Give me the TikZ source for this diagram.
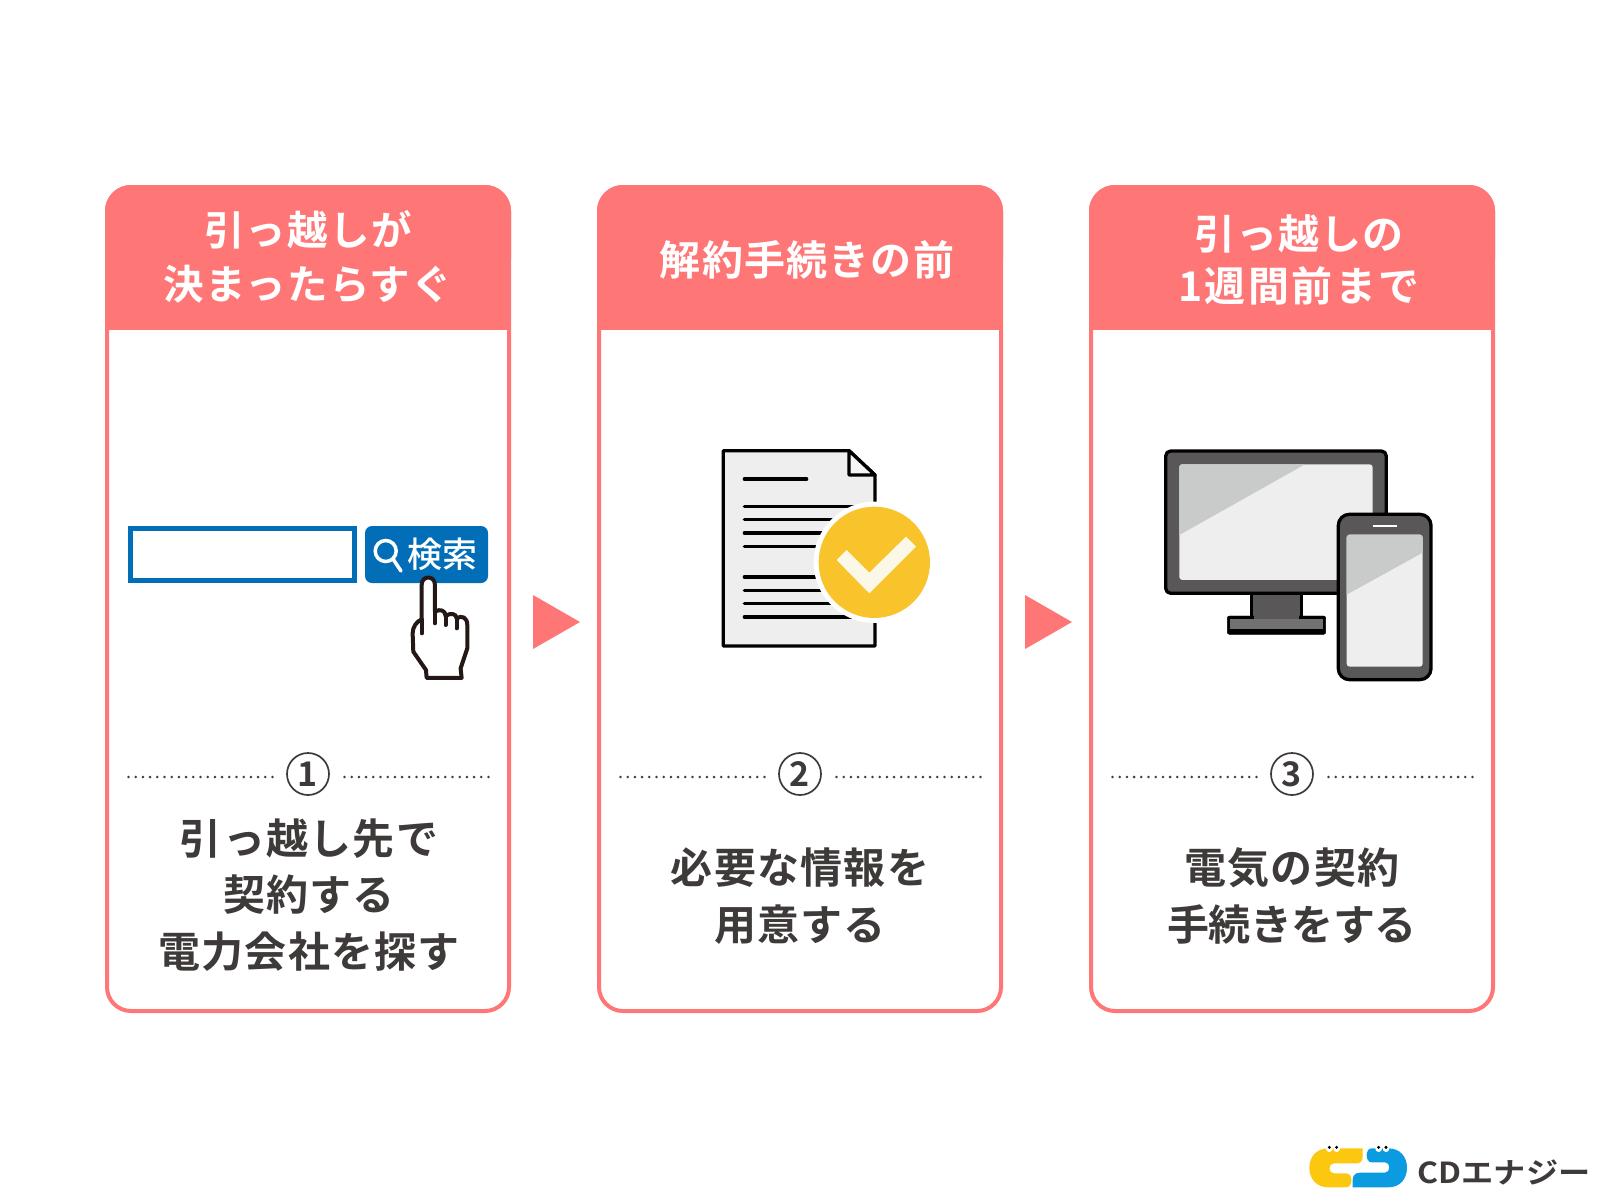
\documentclass[tikz,border=0pt]{standalone}
\usepackage{fontspec}
\usetikzlibrary{positioning}
\newfontfamily\jpfont[LetterSpace=3]{Noto Sans CJK JP Bold}
\newfontfamily\jptight[LetterSpace=-1]{Noto Sans CJK JP Bold}
\newfontfamily\jpwide[LetterSpace=6]{Noto Sans CJK JP Bold}
\newfontfamily\jpplain{Noto Sans CJK JP Medium}
\newfontfamily\jpbold{Noto Sans CJK JP Bold}
\definecolor{salmon}{HTML}{FF7676}
\definecolor{inkgray}{HTML}{3E3A39}
\definecolor{searchblue}{HTML}{036EB8}
\definecolor{handink}{HTML}{231815}
\definecolor{paper}{HTML}{EEEEEE}
\definecolor{glare}{HTML}{C9CACA}
\definecolor{bezel}{HTML}{595757}
\definecolor{basegray}{HTML}{727171}
\definecolor{badge}{HTML}{F9C32B}
\definecolor{tick}{HTML}{FBF8E8}
\definecolor{logoyellow}{HTML}{FCC80F}
\definecolor{logoblue}{HTML}{0A9BE0}
\tikzset{
    cardbox/.style={draw=salmon, line width=4pt, rounded corners=24pt, minimum width=402pt, minimum height=824pt, inner sep=0pt, node distance=492pt, on grid},
    headtext/.style={text=white, font=\jpfont\fontsize{41}{54.5}\selectfont, align=center, inner sep=0pt},
    bodytext/.style={text=inkgray, font=\jpfont\fontsize{42}{56.5}\selectfont, align=center, inner sep=0pt},
    numtext/.style={draw=inkgray, line width=1.7pt, circle, minimum size=42pt, inner sep=0pt, text=inkgray, font=\jpbold\fontsize{34}{34}\selectfont, node distance=492pt, on grid},
    dotrule/.style={draw=inkgray, line width=2.8pt, line cap=round, dash pattern=on 0pt off 7.2pt},
    inkline/.style={line width=3.3pt, line cap=round, line join=round},
    zoomed/.style={x=0.3333pt, y=-0.3333pt},
}
\begin{document}
\begin{tikzpicture}[x=1pt,y=-1pt]
\useasboundingbox (0,0) rectangle (1600,1200);
% cards
\node (cardA) [cardbox] at (308,599) {};
\node (cardB) [cardbox, right of=cardA] {};
\node (cardC) [cardbox, right of=cardB] {};
\foreach \c in {cardA,cardB,cardC} {
    \fill[salmon, rounded corners=26pt] (\c.north west) ++(0,100) -- (\c.north west) -- (\c.north east) -- ++(0,100) -- cycle;
    \fill[salmon] (\c.north west) ++(0,60) rectangle ++(406,84.7);
}
% headers
\node (headA) [headtext, font=\jpfont\fontsize{40.5}{54.5}\selectfont] at (308,257) {引っ越しが\\決まったらすぐ};
\node (headB) [headtext] at (807,260) {解約手続きの前};
\node (headC) [headtext] at (1299,260) {引っ越しの\\[-2.5pt]{\jpwide 1週間前まで}};
% arrows
\fill[salmon] (533,595) -- (580,622) -- (533,649) -- cycle;
\fill[salmon] (1025,595) -- (1072,622) -- (1025,649) -- cycle;
% numbers
\node (numA) [numtext] at (308,774) {1};
\node (numB) [numtext, right of=numA] {2};
\node (numC) [numtext, right of=numB] {3};
\foreach \n in {numA,numB,numC} {
    \draw[dotrule] (\n.center) ++(-179.5,3) -- ++(144.2,0);
    \draw[dotrule] (\n.center) ++(36.5,3) -- ++(144.2,0);
}
% captions
\node (bodyA) [bodytext] at (309,895) {引っ越し先で\\契約する\\電力会社を探す};
\node (bodyB) [bodytext] at (800,896) {必要な情報を\\用意する};
\node (bodyC) [bodytext] at (1292,896) {電気の契約\\{\jptight 手続きをする}};
% search box
\draw[searchblue, line width=5pt] (130.8,528.5) rectangle (354.5,580.5);
\fill[searchblue, rounded corners=7pt] (365,526) rectangle (488,583);
\draw[white, line width=3.5pt] (385.7,551) circle (10.5);
\draw[white, line width=3.5pt, line cap=round] (393,559) -- (401,571);
\node (searchword) [text=white, font=\jpplain\fontsize{35}{35}\selectfont, inner sep=0pt] at (442.5,554) {検索};
\begin{scope}[shift={(100,480)}, zoomed]
    \path[draw=white, line width=11pt, line cap=round] (985,315) -- (985,420);
    \draw[handink, inkline, line width=4pt, fill=white]
        (965,418) -- (965,315) .. controls (965,285) and (1005,285) .. (1005,315) -- (1005,395)
        .. controls (1020,385) and (1037,392) .. (1037,408)
        .. controls (1050,398) and (1070,400) .. (1070,415)
        .. controls (1085,405) and (1102,412) .. (1102,435)
        -- (1102,505) -- (1082,565) -- (1085,594) -- (980,594) -- (978,570) -- (940,515) -- (938,460)
        .. controls (938,440) and (950,425) .. (965,418) -- cycle;
    \draw[handink, inkline, line width=4pt] (965,418) -- (965,460);
    \draw[handink, inkline, line width=4pt] (1005,395) -- (1005,430);
    \draw[handink, inkline, line width=4pt] (1037,408) -- (1037,435);
    \draw[handink, inkline, line width=4pt] (1070,415) -- (1070,445);
\end{scope}
% document
\begin{scope}[shift={(700,430)}, zoomed]
    \draw[fill=paper, inkline] (70,62) -- (447,62) -- (525,135) -- (525,648) -- (70,648) -- cycle;
    \draw[fill=white!50!paper, inkline] (447,62) -- (447,135) -- (525,135) -- cycle;
    \draw[inkline] (133,147) -- (320,147);
    \foreach \y in {229,269,309,349,441,481,521,561} {
        \draw[inkline] (133,\y) -- (470,\y);
    }
    \fill[white] (523,397) circle (182);
    \fill[badge] (523,397) circle (167);
    \fill[tick] (410,390) -- (440,360) -- (508,428) -- (618,320) -- (648,350) -- (508,490) -- cycle;
\end{scope}
% monitor
\begin{scope}[shift={(1150,430)}, zoomed]
    \draw[fill=bezel, inkline] (305,480) rectangle (455,570);
    \draw[fill=black, rounded corners=2pt] (232,558) rectangle (527,613);
    \fill[basegray] (240,568) rectangle (520,597);
    \fill[bezel] (312,480) rectangle (448,568);
    \draw[fill=bezel, inkline, rounded corners=5pt] (47,63) rectangle (709,490);
    \fill[paper, rounded corners=3pt] (88,103) rectangle (668,450);
    \fill[glare] (88,108) -- (93,103) -- (465,103) -- (88,315) -- cycle;
    \draw[fill=bezel, inkline, rounded corners=11pt] (565,253) rectangle (843,749);
    \fill[paper, rounded corners=3pt] (590,314) rectangle (818,710);
    \fill[glare] (590,320) -- (596,314) -- (812,314) -- (818,320) -- (818,368) -- (590,494) -- cycle;
    \draw[white, line width=1.5pt] (670,288) -- (742,288);
\end{scope}
% logo
\begin{scope}[shift={(1290,1130)}, zoomed]
    \fill[logoyellow] (218,55) -- (115,55) .. controls (80,55) and (58,80) .. (58,113) .. controls (58,147) and (80,172) .. (115,172) -- (168,172)
        .. controls (190,172) and (190,130) .. (168,130) -- (132,130)
        .. controls (114,130) and (114,100) .. (132,100) -- (200,100)
        .. controls (212,100) and (218,92) .. (218,80) -- cycle;
    \fill[logoblue] (188,172) -- (295,172) .. controls (330,172) and (351,147) .. (351,113) .. controls (351,80) and (330,55) .. (295,55) -- (245,55)
        .. controls (225,55) and (225,97) .. (245,97) -- (285,97)
        .. controls (302,97) and (302,128) .. (285,128) -- (210,128)
        .. controls (195,128) and (188,138) .. (188,150) -- cycle;
    \foreach \x in {118,140,266,288} {
        \fill[white] (\x,56) circle (10);
        \fill[black] (\x,52) circle (5);
    }
\end{scope}
\node (logoword) [text=inkgray, font=\jpbold\fontsize{29}{29}\selectfont, inner sep=0pt, xscale=1.11, transform shape] at (1504,1172) {CDエナジー};
\end{tikzpicture}
\end{document}
